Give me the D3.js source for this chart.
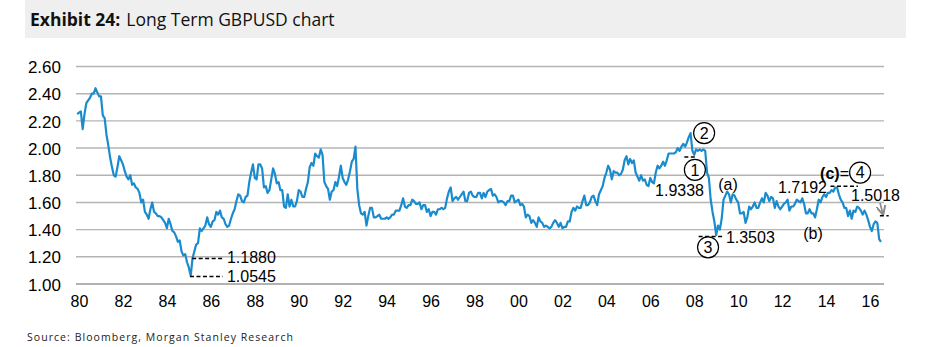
<!DOCTYPE html>
<html><head><meta charset="utf-8">
<script src="https://cdn.jsdelivr.net/npm/d3@7"></script>
<style>
html,body{margin:0;padding:0;background:#fff;}
svg{display:block;}
</style></head>
<body>
<svg id="chart" width="931" height="347"></svg>
<script>
// ---- data (GBPUSD, monthly) ----
const firstPoint = {year: 1979, month: 11}; // Dec 1979 (0-based month)
const values1980s = [2.25,
 2.26,2.27,2.14,2.25,2.33,2.35,2.37,2.40,2.40,2.44,2.41,2.38,
 2.38,2.24,2.22,2.10,2.02,1.93,1.86,1.80,1.79,1.86,1.94,1.91,
 1.88,1.83,1.79,1.77,1.80,1.73,1.74,1.71,1.70,1.67,1.60,1.62,
 1.53,1.51,1.48,1.55,1.60,1.53,1.52,1.50,1.50,1.49,1.47,1.45,
 1.41,1.48,1.44,1.39,1.38,1.35,1.31,1.32,1.24,1.21,1.22,1.16,
 1.12,1.06,1.19,1.24,1.29,1.30,1.41,1.39,1.41,1.43,1.49,1.44,
 1.42,1.46,1.47,1.53,1.51,1.54,1.49,1.48,1.44,1.42,1.43,1.48,
 1.52,1.55,1.61,1.66,1.65,1.61,1.60,1.64,1.65,1.75,1.82,1.88,
 1.78,1.77,1.88,1.88,1.85,1.71,1.72,1.67,1.69,1.77,1.85,1.81,
 1.74,1.75,1.69,1.69,1.57,1.56,1.66,1.57,1.62,1.57,1.57,1.61];
const values1990s = [
 1.69,1.68,1.64,1.64,1.70,1.75,1.86,1.89,1.87,1.96,1.94,1.93,
 1.99,1.95,1.75,1.72,1.70,1.62,1.68,1.69,1.75,1.72,1.79,1.87,
 1.78,1.75,1.73,1.77,1.83,1.90,1.92,2.01,1.70,1.58,1.52,1.51,
 1.53,1.43,1.50,1.56,1.56,1.49,1.49,1.50,1.51,1.48,1.48,1.48,
 1.49,1.48,1.49,1.51,1.51,1.54,1.54,1.54,1.58,1.63,1.57,1.56,
 1.58,1.58,1.62,1.61,1.59,1.59,1.60,1.55,1.58,1.58,1.53,1.55,
 1.50,1.53,1.53,1.51,1.55,1.55,1.56,1.55,1.56,1.63,1.68,1.71,
 1.61,1.63,1.64,1.62,1.64,1.66,1.68,1.61,1.61,1.67,1.68,1.65,
 1.64,1.64,1.67,1.67,1.63,1.67,1.64,1.68,1.69,1.70,1.65,1.66,
 1.64,1.60,1.61,1.61,1.60,1.58,1.61,1.61,1.65,1.65,1.60,1.61];
const values2000s = [
 1.62,1.58,1.59,1.57,1.49,1.51,1.50,1.45,1.47,1.45,1.42,1.49,
 1.46,1.45,1.42,1.43,1.42,1.41,1.42,1.45,1.47,1.45,1.42,1.45,
 1.41,1.42,1.42,1.46,1.46,1.53,1.56,1.54,1.57,1.56,1.56,1.61,
 1.65,1.58,1.58,1.60,1.64,1.65,1.61,1.58,1.66,1.69,1.72,1.78,
 1.82,1.87,1.84,1.77,1.83,1.82,1.82,1.80,1.81,1.84,1.91,1.94,
 1.88,1.92,1.89,1.91,1.82,1.79,1.76,1.80,1.76,1.77,1.73,1.72,
 1.78,1.75,1.74,1.82,1.87,1.85,1.87,1.90,1.87,1.91,1.96,1.96,
 1.96,1.96,1.97,2.00,1.98,2.01,2.03,2.01,2.04,2.08,2.11,1.98,
 1.95,1.99,1.98,1.99,1.98,1.99,1.98,1.82,1.78,1.62,1.53,1.46,
 1.36,1.43,1.40,1.48,1.62,1.65,1.68,1.66,1.60,1.66,1.65,1.62];
const values2010s = [
 1.60,1.52,1.52,1.53,1.45,1.49,1.57,1.55,1.57,1.60,1.56,1.56,
 1.60,1.63,1.60,1.67,1.65,1.61,1.64,1.63,1.56,1.61,1.57,1.55,
 1.57,1.59,1.60,1.62,1.54,1.57,1.57,1.59,1.62,1.61,1.60,1.63,
 1.59,1.52,1.52,1.55,1.52,1.52,1.49,1.55,1.62,1.60,1.64,1.66,
 1.64,1.67,1.67,1.69,1.68,1.71,1.71,1.66,1.62,1.60,1.56,1.56,
 1.50,1.54,1.48,1.54,1.53,1.57,1.56,1.54,1.51,1.54,1.51,1.47,
 1.42,1.39,1.44,1.46,1.45,1.33,1.31];

const xTickYears = [1980,1982,1984,1986,1988,1990,1992,1994,1996,1998,2000,2002,2004,2006,2008,2010,2012,2014,2016];
const xTickLabels = ["80","82","84","86","88","90","92","94","96","98","00","02","04","06","08","10","12","14","16"];
const yTicks = [1.00,1.20,1.40,1.60,1.80,2.00,2.20,2.40,2.60];

const levelLabels = [
  {t0:1985.15, t1:1986.55, v:1.1880, text:"1.1880"},
  {t0:1985.05, t1:1986.55, v:1.0545, text:"1.0545"},
  {t0:2007.55, t1:2008.05, v:1.9338, text:"1.9338"},
  {t0:2008.2, t1:2009.35, v:1.3503, text:"1.3503"},
  {t0:2014.2, t1:2015.45, v:1.7192, text:"1.7192"},
  {t0:2016.45, t1:2016.85, v:1.5018, text:"1.5018"}
];
const waveCircles = [
  {t:2008.03, v:1.84, text:"1"},
  {t:2008.45, v:2.11, text:"2"},
  {t:2008.63, v:1.27, text:"3"},
  {t:2015.55, v:1.82, text:"4"}
];

// ---- build series ----
const series = [].concat(values1980s, values1990s, values2000s, values2010s).map((v,i)=>{
  const m = firstPoint.month + i;
  return {t: firstPoint.year + m/12, v: v};
});

const svg = d3.select("#chart");
const x = d3.scaleLinear().domain([1980,2016]).range([79,870]);
const y = d3.scaleLinear().domain([1,2.6]).range([284,66.5]);
const AX = "'Liberation Sans', Arial, sans-serif";

// title band
svg.append("rect").attr("x",25).attr("y",0).attr("width",881).attr("height",38).attr("fill","#efefef");
const title = svg.append("text").attr("x",30).attr("y",26).attr("font-family","'Open Sans','Noto Sans',sans-serif").attr("font-size",17.5).attr("fill","#111");
title.append("tspan").attr("font-weight","bold").text("Exhibit 24:");
title.append("tspan").attr("dx",6).text("Long Term GBPUSD chart");

// grid
svg.append("g").selectAll("line").data(yTicks).join("line")
  .attr("x1",76).attr("x2",884)
  .attr("y1",d=>y(d)).attr("y2",d=>y(d))
  .attr("stroke",d=>d===1?"#999":"#b4b4b4").attr("stroke-width",1.4);

// y axis labels
const yAxis = d3.axisLeft(y).tickValues(yTicks).tickFormat(d3.format(".2f")).tickSize(0).tickPadding(0);
const gy = svg.append("g").attr("transform","translate(61,0)").call(yAxis);
gy.select(".domain").remove();
gy.selectAll("text").attr("font-family",AX).attr("font-size",17).attr("fill","#000").attr("dy","0.36em");

// x axis labels
const xAxis = d3.axisBottom(x).tickValues(xTickYears).tickFormat((d,i)=>xTickLabels[i]).tickSize(0).tickPadding(0);
const gx = svg.append("g").attr("transform","translate(0,296)").call(xAxis);
gx.select(".domain").remove();
gx.selectAll("text").attr("font-family",AX).attr("font-size",16).attr("fill","#000").attr("dy","0.71em");

// line
const line = d3.line().x(d=>x(d.t)).y(d=>y(d.v));
svg.append("path").datum(series).attr("d",line).attr("fill","none")
  .attr("stroke","#1a8cce").attr("stroke-width",2.2).attr("stroke-linejoin","round");

// annotations
const ann = svg.append("g").attr("font-family",AX).attr("font-size",16).attr("fill","#000");
const dash = (t0,t1,v)=> ann.append("line").attr("x1",x(t0)).attr("x2",x(t1)).attr("y1",y(v)).attr("y2",y(v))
  .attr("stroke","#000").attr("stroke-width",1.5).attr("stroke-dasharray","4,2.5");

const L = levelLabels;
dash(L[0].t0,L[0].t1,L[0].v); ann.append("text").attr("x",x(L[0].t1)+4).attr("y",y(L[0].v)+5).text(L[0].text);
dash(L[1].t0,L[1].t1,L[1].v); ann.append("text").attr("x",x(L[1].t1)+4).attr("y",y(L[1].v)+5.5).text(L[1].text);
dash(L[2].t0,L[2].t1,L[2].v); ann.append("text").attr("x",704).attr("y",y(L[2].v)+39).attr("text-anchor","end").text(L[2].text);
dash(L[3].t0,L[3].t1,L[3].v); ann.append("text").attr("x",x(L[3].t1)+2).attr("y",y(L[3].v)+6.5).text(L[3].text);
ann.append("text").attr("x",778).attr("y",y(L[4].v)+7).text(L[4].text);
dash(L[4].t0,L[4].t1,L[4].v);
ann.append("text").attr("x",851).attr("y",201).text(L[5].text);
dash(L[5].t0,L[5].t1,L[5].v);

// arrow
svg.append("defs").append("marker").attr("id","ah").attr("viewBox","0 0 10 10").attr("refX",9).attr("refY",5)
  .attr("markerWidth",6).attr("markerHeight",6).attr("orient","auto")
  .append("path").attr("d","M0,0 L10,5 L0,10").attr("fill","none").attr("stroke","#888").attr("stroke-width",2);
svg.append("line").attr("x1",880).attr("y1",203).attr("x2",883).attr("y2",214)
  .attr("stroke","#888").attr("stroke-width",1.6).attr("marker-end","url(#ah)");

// wave labels
ann.append("text").attr("x",728).attr("y",190).attr("text-anchor","middle").text("(a)");
ann.append("text").attr("x",813).attr("y",239).attr("text-anchor","middle").text("(b)");
const ct = ann.append("text").attr("x",849).attr("y",179).attr("text-anchor","end");
ct.append("tspan").attr("font-weight","bold").text("(c)");
ct.append("tspan").text("=");

const cg = ann.selectAll("g.c").data(waveCircles).join("g").attr("class","c")
  .attr("transform",d=>`translate(${x(d.t)},${y(d.v)})`);
cg.append("circle").attr("r",10.5).attr("fill","#fff").attr("stroke","#000").attr("stroke-width",1.2);
cg.append("text").attr("text-anchor","middle").attr("dy","0.36em").text(d=>d.text);

// source
svg.append("text").attr("x",27).attr("y",341).attr("font-family","'Open Sans','Noto Sans',sans-serif")
  .attr("font-size",10.5).attr("fill","#222").attr("textLength",266).attr("lengthAdjust","spacing")
  .text("Source: Bloomberg, Morgan Stanley Research");
</script>
</body></html>
